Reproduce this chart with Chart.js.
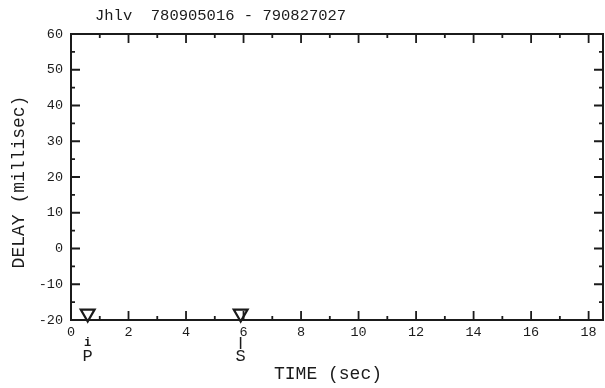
<!DOCTYPE html>
<html>
<head>
<meta charset="utf-8">
<script src="https://cdn.jsdelivr.net/npm/chart.js@4"></script>
<style>
  html, body { margin:0; padding:0; background:#fff; }
  #wrap { width:605px; height:388px; position:relative; }
</style>
</head>
<body>
<div id="wrap"><canvas id="chart" width="605" height="388"></canvas></div>
<script>
// data
const headerText = "Jhlv  780905016 - 790827027";
const xTickValues = [0, 2, 4, 6, 8, 10, 12, 14, 16, 18];
const yTickValues = [-20, -10, 0, 10, 20, 30, 40, 50, 60];
const xMinorStep = 1, yMinorStep = 5;
const phaseNames = ["P", "S"];
const phaseMarks = ["i", "|"];
const phaseTimes = [0.58, 5.9];
const phaseDelays = [-18.2, -18.2];

const ink = "#1b1b1b";
const mono = "'Liberation Mono', 'DejaVu Sans Mono', monospace";

// helpers
const $ = (id) => document.getElementById(id);

// inward ticks, frame, titles and phase labels
const plotterDeco = {
  id: "plotterDeco",
  afterDraw(chart){
    const { ctx, chartArea:a, scales:{ x, y } } = chart;
    ctx.save();
    ctx.strokeStyle = ink; ctx.fillStyle = ink;
    ctx.lineWidth = 2;
    ctx.strokeRect(a.left, a.top, a.right - a.left, a.bottom - a.top);

    ctx.lineWidth = 1.8;
    // x ticks, bottom and top
    for(let v = x.min; v <= x.max + 1e-9; v += xMinorStep){
      const px = x.getPixelForValue(v);
      const len = xTickValues.includes(v) ? 9 : 4;
      ctx.beginPath();
      ctx.moveTo(px, a.bottom); ctx.lineTo(px, a.bottom - len);
      ctx.moveTo(px, a.top); ctx.lineTo(px, a.top + len);
      ctx.stroke();
    }
    // y ticks, left and right
    for(let v = y.min; v <= y.max + 1e-9; v += yMinorStep){
      const py = y.getPixelForValue(v);
      const len = yTickValues.includes(v) ? 9 : 4;
      ctx.beginPath();
      ctx.moveTo(a.left, py); ctx.lineTo(a.left + len, py);
      ctx.moveTo(a.right, py); ctx.lineTo(a.right - len, py);
      ctx.stroke();
    }

    // header
    ctx.font = "15.5px " + mono;
    ctx.textAlign = "left"; ctx.textBaseline = "alphabetic";
    ctx.fillText(headerText, 95, 20);

    // axis titles
    ctx.font = "18px " + mono;
    ctx.textAlign = "center"; ctx.textBaseline = "middle";
    ctx.fillText("TIME (sec)", 328, 374);
    ctx.save();
    ctx.translate(19, (a.top + a.bottom) / 2 + 5);
    ctx.rotate(-Math.PI / 2);
    ctx.fillText("DELAY (millisec)", 0, 0);
    ctx.restore();

    // phase labels under the axis
    phaseNames.forEach((name, i) => {
      const px = x.getPixelForValue(phaseTimes[i]);
      ctx.font = "bold 12px " + mono;
      ctx.fillText(phaseMarks[i], px, a.bottom + 23);
      ctx.font = "17px " + mono;
      ctx.fillText(name, px, a.bottom + 36);
    });
    ctx.restore();
  }
};

new Chart($("chart").getContext("2d"), {
  type: "scatter",
  data: {
    datasets: [{
      data: phaseTimes.map((t, i) => ({ x: t, y: phaseDelays[i] })),
      pointStyle: "triangle",
      rotation: 180,
      radius: 8,
      borderWidth: 2.2,
      borderColor: ink,
      backgroundColor: "#fff",
      clip: false
    }]
  },
  options: {
    responsive: false,
    animation: false,
    layout: { autoPadding: false, padding: { top: 34, right: 2, left: 0, bottom: 0 } },
    plugins: { legend: { display: false }, tooltip: { enabled: false }, title: { display: false } },
    scales: {
      x: {
        type: "linear", min: 0, max: 18.5,
        afterBuildTicks: (s) => { s.ticks = xTickValues.map(v => ({ value: v })); },
        afterFit: (s) => { s.height = 68; s.paddingLeft = 0; s.paddingRight = 0; },
        grid: { display: false, drawTicks: false },
        border: { display: false },
        ticks: { color: ink, font: { family: mono, size: 13.5 }, padding: 4, autoSkip: false, maxRotation: 0 }
      },
      y: {
        type: "linear", min: -20, max: 60,
        afterBuildTicks: (s) => { s.ticks = yTickValues.map(v => ({ value: v })); },
        afterFit: (s) => { s.width = 71; s.paddingTop = 0; s.paddingBottom = 0; },
        grid: { display: false, drawTicks: false },
        border: { display: false },
        ticks: { color: ink, font: { family: mono, size: 13.5 }, padding: 8 }
      }
    }
  },
  plugins: [plotterDeco]
});
</script>
</body>
</html>
